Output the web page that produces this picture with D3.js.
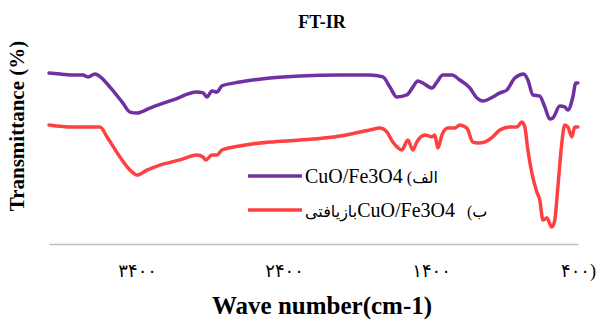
<!DOCTYPE html>
<html><head><meta charset="utf-8">
<script src="https://cdn.jsdelivr.net/npm/d3@7"></script>
<style>body{margin:0;background:#fff} svg{display:block}</style>
</head><body><svg id="c" width="599" height="322"></svg>
<script>
const titleText = "FT-IR";
const xTitle = "Wave number(cm-1)";
const yTitle = "Transmittance (%)";
const tickValues = [3400, 2400, 1400, 400];
const tickLabels = ["۳۴۰۰", "۲۴۰۰", "۱۴۰۰", "۴۰۰)"];
// legend names as [arabic prefix, formula, arabic suffix]
const seriesNames = [["الف) ", "CuO/Fe3O4", ""], ["ب)   ", "CuO/Fe3O4", "بازیافتی"]];
const seriesColors = ["#7030a0", "#ff4040"];

// Series A: CuO/Fe3O4 (wavenumber, transmittance)
const wnA = [4000,3925,3823,3769,3735,3687,3667,3585,3497,3449,3401,3313,3156,2993,2952,2925,2891,2857,2823,2701,2497,2292,2020,1816,1728,1680,1633,1565,1524,1490,1456,1394,1360,1320,1258,1204,1136,1088,1048,980,932,884,830,769,741,707,660,626,592,571,524,490,469,435,415,401];
const tA = [92.9,92.4,91.8,91.8,90.8,92.4,91.8,85.3,76.6,71.7,71.2,73.9,78.3,82.6,82.1,79.9,83.2,82.6,85.9,88.0,90.2,91.3,91.8,91.8,90.8,85.3,79.9,81.0,85.3,88.6,87.5,84.8,88.0,91.8,91.8,89.1,84.8,79.3,77.7,79.9,82.1,83.7,90.2,92.4,89.1,81.0,80.4,74.5,67.9,68.5,75.0,74.5,72.8,79.9,87.5,87.5];

// Series B: recovered CuO/Fe3O4
const wnB = [4000,3837,3769,3653,3605,3517,3449,3401,3333,3245,3109,2993,2952,2932,2891,2857,2823,2701,2497,2292,2020,1816,1748,1701,1660,1599,1558,1524,1497,1442,1394,1374,1354,1326,1286,1238,1204,1156,1116,1082,1034,980,932,864,816,782,762,741,714,680,660,639,612,578,558,537,510,490,469,442,422,401];
const tB = [64.7,63.6,63.6,63.6,58.2,47.3,40.2,37.5,40.2,42.9,45.7,48.4,47.3,45.7,48.4,48.4,51.1,53.3,55.4,56.5,58.7,62.0,63.0,60.9,55.4,51.1,56.5,51.1,55.4,59.2,58.2,59.2,52.2,59.2,63.0,63.0,64.7,63.0,55.4,54.9,55.4,58.2,62.0,63.6,63.6,66.3,63.6,51.1,38.6,28.3,23.9,13.0,14.1,9.2,13.0,31.0,54.9,64.7,63.6,58.2,63.6,63.6];

const svg = d3.select("#c");
const serif = "'Liberation Serif', 'Times New Roman', 'DejaVu Serif', serif";
const arabicFont = "'Liberation Serif', 'DejaVu Sans', serif";

const x = d3.scaleLinear().domain([4000, 400]).range([49, 578]);
const y = d3.scaleLinear().domain([0, 100]).range([244, 60]);

// axis
const ax = svg.append("g").attr("transform", `translate(0,${y(0)})`)
  .call(d3.axisBottom(x).tickValues(tickValues)
    .tickFormat((d, i) => tickLabels[i]).tickSize(0).tickSizeOuter(0).tickPadding(20));
ax.select(".domain").attr("stroke", "#bfbfbf").attr("stroke-width", 1.5);
ax.selectAll("text").attr("font-family", arabicFont).attr("font-size", 18).attr("fill", "#000");

const line = d3.line().x(d => x(d[0])).y(d => y(d[1])).curve(d3.curveMonotoneX);
const series = [d3.zip(wnA, tA), d3.zip(wnB, tB)];
svg.selectAll("path.s").data(series).join("path").attr("class", "s")
  .attr("d", line).attr("fill", "none")
  .attr("stroke", (d, i) => seriesColors[i]).attr("stroke-width", 3.5)
  .attr("stroke-linejoin", "round").attr("stroke-linecap", "round");

// titles
svg.append("text").attr("x", 322).attr("y", 28).attr("text-anchor", "middle")
  .attr("font-family", serif).attr("font-weight", "bold").attr("font-size", 18).text(titleText);
svg.append("text").attr("x", 322).attr("y", 314).attr("text-anchor", "middle")
  .attr("font-family", serif).attr("font-weight", "bold").attr("font-size", 25).text(xTitle);
svg.append("text").attr("transform", "translate(24,126) rotate(-90)").attr("text-anchor", "middle")
  .attr("font-family", serif).attr("font-weight", "bold").attr("font-size", 21).text(yTitle);

// legend
const lg = svg.append("g");
seriesNames.forEach((parts, i) => {
  const ly = 176 + i * 34;
  lg.append("line").attr("x1", 248).attr("x2", 302).attr("y1", ly).attr("y2", ly)
    .attr("stroke", seriesColors[i]).attr("stroke-width", 3.5);
  const t = lg.append("text").attr("x", 305).attr("y", ly + 7)
    .style("direction", "rtl").style("white-space", "pre").attr("text-anchor", "end")
    .attr("font-family", arabicFont).attr("font-size", 20);
  t.append("tspan").attr("font-size", 16).text(parts[0]);
  t.append("tspan").text(parts[1]);
  if (parts[2]) t.append("tspan").attr("font-size", 16).text(parts[2]);
});
</script></body></html>
